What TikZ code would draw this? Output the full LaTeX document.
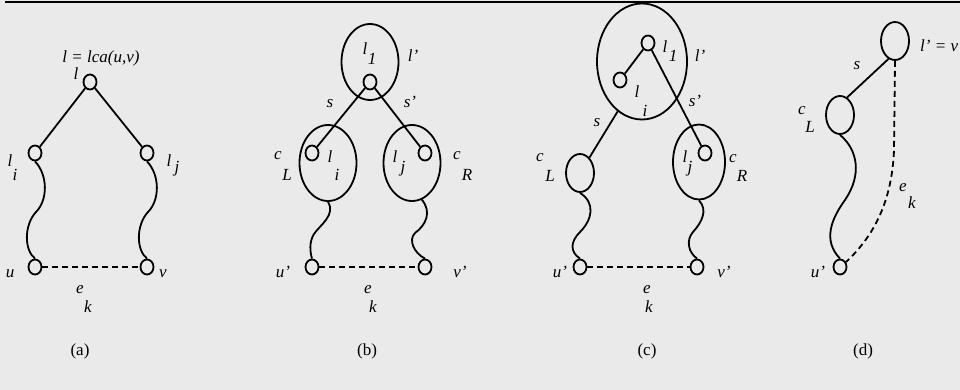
\documentclass[tikz,border=0pt]{standalone}
\usepackage{fontspec}
\setmainfont{Liberation Serif}
\usetikzlibrary{shapes.geometric}
\definecolor{bgc}{RGB}{234,234,234}
\begin{document}
\begin{tikzpicture}[x=1pt,y=-1pt,
 lw/.style={line width=1.8pt},
 sm/.style={ellipse,draw,line width=1.8pt,minimum width=13pt,minimum height=15pt,inner sep=0pt},
 big/.style={ellipse,draw,line width=1.8pt,minimum width=57pt,minimum height=76pt,inner sep=0pt},
 mid/.style={ellipse,draw,line width=1.8pt,minimum width=28pt,minimum height=38pt,inner sep=0pt},
 lab/.style={font=\fontsize{17}{20}\selectfont\itshape,anchor=base,inner sep=0pt},
 capt/.style={font=\fontsize{17}{20}\selectfont,anchor=base,inner sep=0pt},
 dsh/.style={line width=1.8pt,dash pattern=on 6pt off 4pt},
]
\fill[bgc] (0,0) rectangle (960,390);
\useasboundingbox (0,0) rectangle (960,390);
\draw[line width=2.5pt] (5,2) -- (960,2);

% ---------- (a)
\node[sm] (al) at (90,82) {};
\node[sm] (ali) at (35,153) {};
\node[sm] (alj) at (147,153) {};
\node[sm] (au) at (35,267) {};
\node[sm] (av) at (147,267) {};
\draw[lw] (al) -- (ali);
\draw[lw] (al) -- (alj);
\draw[dsh] (au) -- (av);
\draw[lw] (ali.south) .. controls (48,175) and (48,200) .. (36,212) .. controls (24,225) and (24,250) .. (au.north);
\draw[lw] (alj.south) .. controls (160,175) and (160,200) .. (148,212) .. controls (136,225) and (136,250) .. (av.north);
\node[lab] (atl) at (101,63) {l = lca(u,v)};
\node[lab] (al0) at (76,80) {l};
\node[lab] (ali1) at (10,167) {l};
\node[lab] (ali2) at (15,180) {i};
\node[lab] (alj1) at (169,167) {l};
\node[lab] (alj2) at (177,173) {j};
\node[lab] (aut) at (10,277) {u};
\node[lab] (avt) at (163,277) {v};
\node[lab] (ae) at (80,293) {e};
\node[lab] (ak) at (88,312) {k};
\node[capt] (acap) at (80,355) {(a)};

% ---------- (b)
\node[big] (bl1) at (370,62) {};
\node[sm] (bl) at (370,82) {};
\node[big] (bcl) at (328,163) {};
\node[big] (bcr) at (412,163) {};
\node[sm] (bli) at (312,153) {};
\node[sm] (blj) at (425,153) {};
\node[sm] (bu) at (312,267) {};
\node[sm] (bv) at (425,267) {};
\draw[lw] (bl) -- (bli);
\draw[lw] (bl) -- (blj);
\draw[dsh] (bu) -- (bv);
\draw[lw] (bcl.south) .. controls (336,215) and (320,225) .. (314,234) .. controls (309,242) and (310,252) .. (bu.north);
\draw[lw] (bcr.285) .. controls (432,212) and (426,225) .. (415,233) .. controls (408,240) and (414,253) .. (bv.north);
\node[lab] (bt1) at (365,55) {l};
\node[lab] (bt2) at (372,65) {1};
\node[lab] (blp) at (413,62) {l'};
\node[lab] (bs) at (330,108) {s};
\node[lab] (bsp) at (410,108) {s'};
\node[lab] (bli1) at (330,163) {l};
\node[lab] (bli2) at (337,180) {i};
\node[lab] (blj1) at (395,163) {l};
\node[lab] (blj2) at (403,173) {j};
\node[lab] (bc1) at (278,160) {c};
\node[lab] (bc2) at (287,180) {L};
\node[lab] (bd1) at (457,160) {c};
\node[lab] (bd2) at (467,180) {R};
\node[lab] (but) at (283,277) {u'};
\node[lab] (bvt) at (460,277) {v'};
\node[lab] (be) at (368,293) {e};
\node[lab] (bk) at (373,312) {k};
\node[capt] (bcap) at (367,355) {(b)};

% ---------- (c)
\node[ellipse,draw,line width=1.8pt,minimum width=90pt,minimum height=116pt,inner sep=0pt] (cbig) at (642,61.5) {};
\node[sm] (cl1) at (648,43) {};
\node[sm] (cli) at (620,80) {};
\node[mid] (ccl) at (580,173) {};
\node[ellipse,draw,line width=1.8pt,minimum width=52pt,minimum height=75pt,inner sep=0pt] (ccr) at (699,162) {};
\node[sm] (clj) at (705,153) {};
\node[sm] (cu) at (580,267) {};
\node[sm] (cv) at (697,267) {};
\draw[lw] (cli) -- (cl1);
\draw[lw] (cl1) -- (clj);
\draw[lw] (cbig.244) -- (ccl);
\draw[dsh] (cu) -- (cv);
\draw[lw] (ccl.south) .. controls (596,203) and (592,220) .. (580,232) .. controls (570,242) and (570,252) .. (cu.north);
\draw[lw] (ccr.south) .. controls (708,210) and (702,222) .. (693,232) .. controls (686,240) and (688,252) .. (cv.north);
\node[lab] (ct1) at (665,53) {l};
\node[lab] (ct2) at (673,62) {1};
\node[lab] (clp) at (700,62) {l'};
\node[lab] (cli1) at (637,98) {l};
\node[lab] (cli2) at (645,117) {i};
\node[lab] (csp) at (695,107) {s'};
\node[lab] (cs) at (597,127) {s};
\node[lab] (cc1) at (540,162) {c};
\node[lab] (cc2) at (550,182) {L};
\node[lab] (clj1) at (685,163) {l};
\node[lab] (clj2) at (690,173) {j};
\node[lab] (cd1) at (733,163) {c};
\node[lab] (cd2) at (742,182) {R};
\node[lab] (cut) at (560,277) {u'};
\node[lab] (cvt) at (724,277) {v'};
\node[lab] (ce) at (647,293) {e};
\node[lab] (ck) at (649,312) {k};
\node[capt] (ccap) at (647,355) {(c)};

% ---------- (d)
\node[mid] (dlv) at (895,41) {};
\node[mid] (dcl) at (840,115) {};
\node[sm] (du) at (840,267) {};
\draw[lw] (dlv.250) -- (dcl.68);
\draw[lw] (dcl.south) .. controls (858,150) and (862,175) .. (845,200) .. controls (832,218) and (822,240) .. (du.north);
\draw[dsh] (dlv.south) -- (894,150) .. controls (892,200) and (875,235) .. (du.40);
\node[lab,anchor=base west] (dlt) at (920,52) {l' = v};
\node[lab] (ds) at (857,70) {s};
\node[lab] (dc1) at (802,115) {c};
\node[lab] (dc2) at (810,133) {L};
\node[lab] (de) at (903,192) {e};
\node[lab] (dk) at (912,208) {k};
\node[lab] (dut) at (818,277) {u'};
\node[capt] (dcap) at (863,355) {(d)};
\end{tikzpicture}
\end{document}
